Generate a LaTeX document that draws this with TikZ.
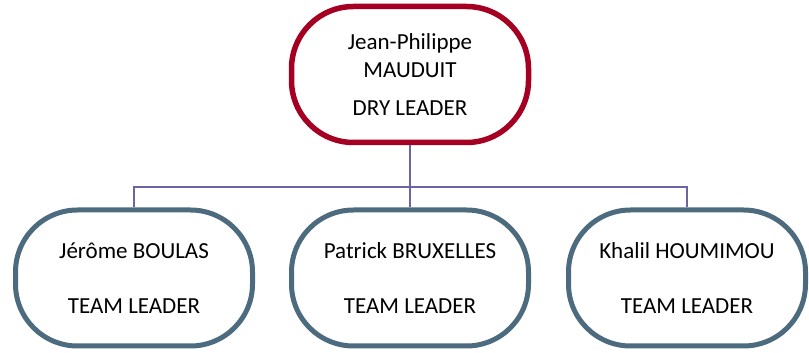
\documentclass[tikz,border=0pt]{standalone}
\usepackage{fontspec}
\setmainfont{Carlito}
\definecolor{dryred}{HTML}{A50021}
\definecolor{teamblue}{HTML}{4D6B7E}
\definecolor{linkviolet}{HTML}{6C64A4}

\begin{document}
\begin{tikzpicture}[x=1pt, y=1pt,
        box/.style={draw, fill=white, rounded corners=62pt, align=center,
            minimum width=237pt, minimum height=136pt, inner sep=0pt,
            font=\fontsize{23}{28}\selectfont},
        drybox/.style={box, draw=dryred, line width=5.5pt},
        teambox/.style={box, draw=teamblue, line width=5pt},
        link/.style={draw=linkviolet, line width=1.6pt}]
        \useasboundingbox (0,0) rectangle (809,353);
        % top
        \node [drybox] (dry) at (410,278.5) {Jean-Philippe\\MAUDUIT\\[10pt]DRY LEADER};
        % team leaders
        \node [teambox] (tl1) at (134,75) {Jérôme BOULAS\\[27pt]TEAM LEADER};
        \node [teambox] (tl2) at (410,75) {Patrick BRUXELLES\\[27pt]TEAM LEADER};
        \node [teambox] (tl3) at (687,75) {Khalil HOUMIMOU\\[27pt]TEAM LEADER};
        % links
        \coordinate (bar) at (410,166);
        \draw [link] (dry) -- (tl2);
        \draw [link] (tl1) |- (bar) -| (tl3);
    \end{tikzpicture}
\end{document}
